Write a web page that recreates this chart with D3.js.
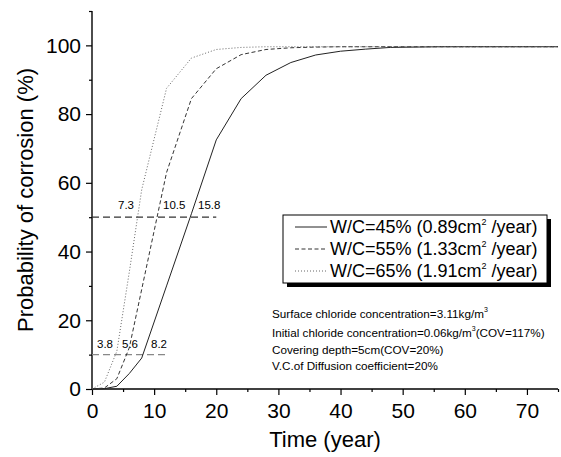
<!DOCTYPE html>
<html>
<head>
<meta charset="utf-8">
<script src="https://cdn.jsdelivr.net/npm/d3@7"></script>
<style>
  html, body { margin: 0; padding: 0; background: #fff; }
  svg { display: block; font-family: "Liberation Sans", Arial, Helvetica, sans-serif; }
</style>
</head>
<body>
<div id="chart"></div>
<script>
// Time axis (years) shared by the three curves
const years = [0, 2, 4, 6, 8, 12, 16, 20, 24, 28, 32, 36, 40, 44, 48, 52, 56, 60, 64, 68, 72, 75];

// Probability of corrosion (%) for each water/cement ratio
const probWC45 = [0, 0.1, 0.8, 4.5, 9, 30, 51, 72.5, 84.5, 91.3, 95, 97.2, 98.3, 98.9, 99.4, 99.5, 99.6, 99.6, 99.6, 99.6, 99.6, 99.6];
const probWC55 = [0, 0.3, 3, 12, 29, 63, 84.5, 93.2, 97.3, 98.8, 99.3, 99.5, 99.6, 99.6, 99.6, 99.6, 99.6, 99.6, 99.6, 99.6, 99.6, 99.6];
const probWC65 = [0, 2, 11, 34, 58, 87.5, 96.3, 98.8, 99.4, 99.6, 99.6, 99.6, 99.6, 99.6, 99.6, 99.6, 99.6, 99.6, 99.6, 99.6, 99.6, 99.6];

const seriesNames = ["W/C=45% (0.89cm", "W/C=55% (1.33cm", "W/C=65% (1.91cm"];
const seriesDash = [null, "4,2.5", "1,2"];
const seriesColor = ["#222", "#333", "#666"];

// Reference levels and the times at which each curve reaches them
const refLevels = [50, 10];
const refEnds = [20, 12];
const times50 = ["7.3", "10.5", "15.8"];
const times10 = ["3.8", "5.6", "8.2"];

const xTicks = [0, 10, 20, 30, 40, 50, 60, 70];
const yTicks = [0, 20, 40, 60, 80, 100];

const notes = [
  ["Surface chloride concentration=3.11kg/m", "3", ""],
  ["Initial chloride concentration=0.06kg/m", "3", "(COV=117%)"],
  ["Covering depth=5cm(COV=20%)", "", ""],
  ["V.C.of Diffusion coefficient=20%", "", ""]
];

const W = 561, H = 457;
const svg = d3.select("#chart").append("svg").attr("width", W).attr("height", H);

const x = d3.scaleLinear().domain([0, 75]).range([92, 558]);
const y = d3.scaleLinear().domain([0, 110]).range([389, 11]);

// Axes
const axisStroke = 1.4;
svg.append("line").attr("x1", x(0)).attr("x2", x(75)).attr("y1", y(0)).attr("y2", y(0))
  .attr("stroke", "#000").attr("stroke-width", axisStroke);
svg.append("line").attr("x1", x(0)).attr("x2", x(0)).attr("y1", y(0)).attr("y2", y(110))
  .attr("stroke", "#000").attr("stroke-width", axisStroke);

const xAxis = d3.axisBottom(x).tickValues(xTicks).tickSize(6).tickFormat(d3.format("d"));
const gx = svg.append("g").attr("transform", `translate(0,${y(0)})`).call(xAxis);
gx.select(".domain").remove();
gx.selectAll(".tick line").attr("stroke", "#000").attr("stroke-width", 1.2);
gx.selectAll(".tick text").attr("font-size", 21).attr("fill", "#000").attr("dy", "0.95em")
  .attr("font-family", "Liberation Sans, Arial, sans-serif");

const xMinor = d3.axisBottom(x).tickValues(d3.range(5, 76, 10)).tickSize(3).tickFormat("");
const gxm = svg.append("g").attr("transform", `translate(0,${y(0)})`).call(xMinor);
gxm.select(".domain").remove();
gxm.selectAll(".tick line").attr("stroke", "#000").attr("stroke-width", 1.2);

const yAxis = d3.axisLeft(y).tickValues(yTicks).tickSize(6).tickFormat(d3.format("d"));
const gy = svg.append("g").attr("transform", `translate(${x(0)},0)`).call(yAxis);
gy.select(".domain").remove();
gy.selectAll(".tick line").attr("stroke", "#000").attr("stroke-width", 1.2);
gy.selectAll(".tick text").attr("font-size", 21).attr("fill", "#000").attr("x", -11)
  .attr("font-family", "Liberation Sans, Arial, sans-serif");

const yMinor = d3.axisLeft(y).tickValues(d3.range(10, 111, 20)).tickSize(3).tickFormat("");
const gym = svg.append("g").attr("transform", `translate(${x(0)},0)`).call(yMinor);
gym.select(".domain").remove();
gym.selectAll(".tick line").attr("stroke", "#000").attr("stroke-width", 1.2);

// Axis titles
svg.append("text").attr("x", (x(0) + x(75)) / 2).attr("y", 447)
  .attr("text-anchor", "middle").attr("font-size", 22).text("Time (year)");
svg.append("text").attr("transform", `translate(33,${(y(0) + y(110)) / 2}) rotate(-90)`)
  .attr("text-anchor", "middle").attr("font-size", 22).text("Probability of corrosion (%)");

// Reference lines at 10% and 50%
refLevels.forEach((lv, i) => {
  svg.append("line")
    .attr("x1", x(0)).attr("x2", x(refEnds[i]))
    .attr("y1", y(lv)).attr("y2", y(lv))
    .attr("stroke", i === 0 ? "#333" : "#888")
    .attr("stroke-width", 1.2)
    .attr("stroke-dasharray", "7,4");
});

// Curves
const series = [probWC45, probWC55, probWC65];
const line = d3.line().x((d, i) => x(years[i])).y(d => y(d));
series.forEach((vals, k) => {
  svg.append("path").datum(vals)
    .attr("d", line)
    .attr("fill", "none")
    .attr("stroke", seriesColor[k])
    .attr("stroke-width", 1)
    .attr("stroke-dasharray", seriesDash[k]);
});

// Crossing-time labels
const lab50x = [118, 163, 198];
const lab10x = [97, 122, 151];
times50.forEach((t, i) => {
  svg.append("text").attr("x", lab50x[i]).attr("y", 209).attr("font-size", 11.5).text(t);
});
times10.forEach((t, i) => {
  svg.append("text").attr("x", lab10x[i]).attr("y", 348).attr("font-size", 11.5).text(t);
});

// Legend with drop shadow
const lg = svg.append("g");
lg.append("rect").attr("x", 287).attr("y", 219).attr("width", 264).attr("height", 68).attr("fill", "#000");
lg.append("rect").attr("x", 283).attr("y", 215).attr("width", 264).attr("height", 68)
  .attr("fill", "#fff").attr("stroke", "#000").attr("stroke-width", 1);
seriesNames.forEach((name, k) => {
  const by = 233 + k * 22;
  lg.append("line").attr("x1", 295).attr("x2", 327).attr("y1", by - 6).attr("y2", by - 6)
    .attr("stroke", seriesColor[k]).attr("stroke-width", 1).attr("stroke-dasharray", seriesDash[k]);
  const t = lg.append("text").attr("x", 330).attr("y", by).attr("font-size", 18);
  t.append("tspan").text(name);
  t.append("tspan").attr("font-size", 9).attr("dy", -8).text("2");
  t.append("tspan").attr("dy", 8).text(" /year)");
});

// Notes on model parameters
notes.forEach((n, i) => {
  const by = [318, 337, 354, 370][i];
  const t = svg.append("text").attr("x", 272).attr("y", by).attr("font-size", 11.7);
  t.append("tspan").text(n[0]);
  if (n[1]) t.append("tspan").attr("font-size", 7).attr("dy", -6).text(n[1]);
  if (n[2]) t.append("tspan").attr("dy", 6).text(n[2]);
});
</script>
</body>
</html>
